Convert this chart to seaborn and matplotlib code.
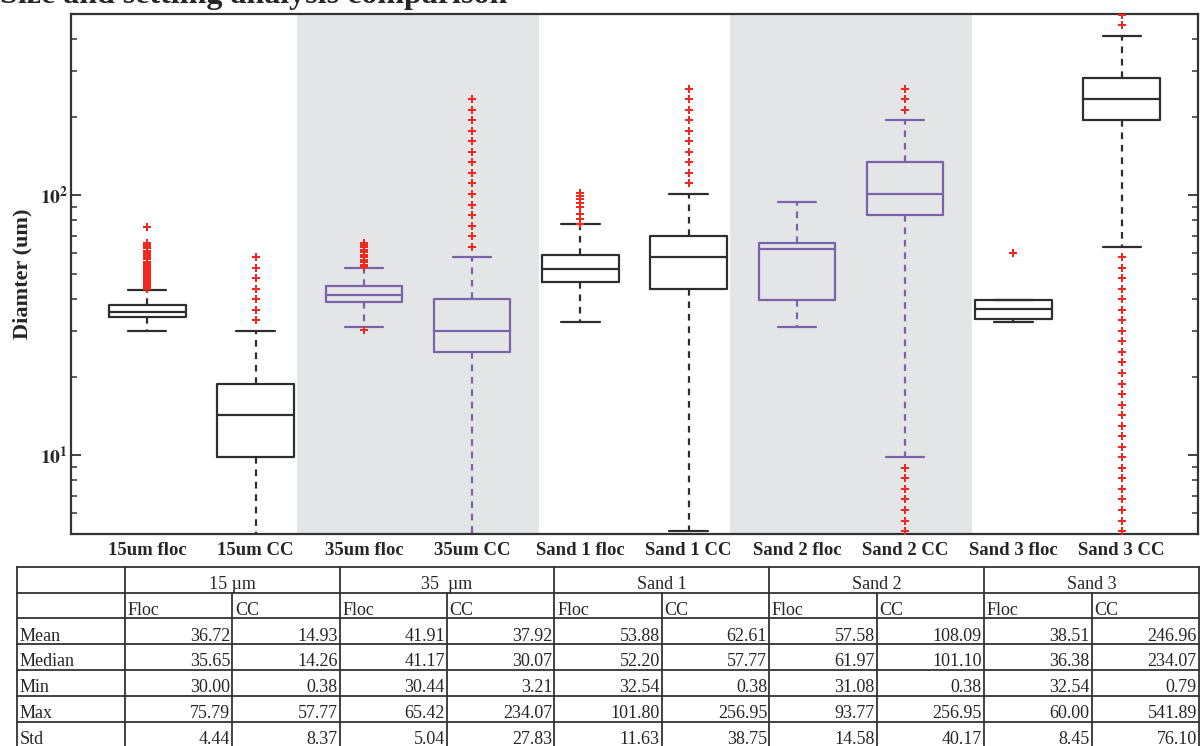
import numpy as np
import pandas as pd
import matplotlib
matplotlib.use("Agg")
import matplotlib.pyplot as plt
from matplotlib.ticker import LogLocator, NullFormatter
import seaborn as sns

# Datos
categories = ["15um floc", "15um CC", "35um floc", "35um CC", "Sand 1 floc",
              "Sand 1 CC", "Sand 2 floc", "Sand 2 CC", "Sand 3 floc", "Sand 3 CC"]

whislo = [30.00, 0.38, 31.0, 3.21, 32.54, 5.11, 31.08, 9.83, 32.54, 63.44]
q1 = [34.0, 9.83, 38.9, 24.96, 46.4, 43.68, 39.6, 83.92, 33.4, 194.24]
med = [35.65, 14.26, 41.17, 30.07, 52.20, 57.77, 61.97, 101.10, 36.38, 234.07]
q3 = [37.8, 18.87, 44.7, 39.79, 58.9, 69.64, 65.3, 133.76, 39.6, 282.07]
whishi = [43.2, 30.08, 52.6, 57.79, 77.5, 101.12, 93.77, 194.24, 39.6, 409.61]

# valores atipicos (outliers) por caja
fl_15_floc = [43.6, 44.3, 45.0, 45.8, 46.6, 47.4, 48.2, 49.0, 49.9, 50.8, 51.7, 52.6,
              53.6, 54.6, 55.6, 56.7, 57.8, 58.9, 60.0, 61.2, 62.4, 63.6, 64.9, 65.6, 75.79]
fl_15_cc = [33.02, 36.25, 39.79, 43.68, 47.95, 52.64, 57.77]
fl_35_floc = [30.44, 53.0, 54.1, 55.3, 56.5, 57.7, 59.0, 60.3, 61.6, 63.0, 64.2, 65.42]
fl_35_cc = [63.44, 69.64, 76.45, 83.92, 92.12, 101.12, 111.00, 121.85, 133.76,
            146.84, 161.19, 176.95, 194.24, 213.23, 234.07]
fl_s1_floc = [77.8, 81.0, 84.5, 90.5, 93.5, 96.5, 99.3, 101.80]
fl_s1_cc = [111.00, 121.85, 133.76, 146.84, 161.19, 176.95, 194.24, 213.23, 234.07, 256.95]
fl_s2_floc = []
fl_s2_cc = [5.11, 5.61, 6.16, 6.76, 7.42, 8.15, 8.95, 213.23, 234.07, 256.95]
fl_s3_floc = [60.00]
fl_s3_cc = [5.11, 5.61, 6.16, 6.76, 7.42, 8.15, 8.95, 9.83, 10.79, 11.84, 13.00, 14.27,
            15.66, 17.19, 18.87, 20.72, 22.74, 24.96, 27.40, 30.08, 33.02, 36.25, 39.79,
            43.68, 47.95, 52.64, 57.79, 449.65, 493.60, 541.89]
fliers = [fl_15_floc, fl_15_cc, fl_35_floc, fl_35_cc, fl_s1_floc,
          fl_s1_cc, fl_s2_floc, fl_s2_cc, fl_s3_floc, fl_s3_cc]

# Tabla
groups = ["15 µm", "35  µm", "Sand 1", "Sand 2", "Sand 3"]
sub_cols = ["Floc", "CC"]
row_names = ["Mean", "Median", "Min", "Max", "Std"]
mean_vals = [36.72, 14.93, 41.91, 37.92, 53.88, 62.61, 57.58, 108.09, 38.51, 246.96]
median_vals = [35.65, 14.26, 41.17, 30.07, 52.20, 57.77, 61.97, 101.10, 36.38, 234.07]
min_vals = [30.00, 0.38, 30.44, 3.21, 32.54, 0.38, 31.08, 0.38, 32.54, 0.79]
max_vals = [75.79, 57.77, 65.42, 234.07, 101.80, 256.95, 93.77, 256.95, 60.00, 541.89]
std_vals = [4.44, 8.37, 5.04, 27.83, 11.63, 38.75, 14.58, 40.17, 8.45, 76.10]

# Estilo
sns.set_style("ticks")
plt.rcParams['font.family'] = ['Liberation Serif', 'DejaVu Serif']
plt.rcParams['mathtext.fontset'] = 'stix'

BLACK = '#2e2e2e'
PURPLE = '#7a63a9'
RED = '#f0281e'
box_colors = [BLACK, BLACK, PURPLE, PURPLE, BLACK, BLACK, PURPLE, PURPLE, BLACK, BLACK]

fig = plt.figure(figsize=(12.02, 7.46), dpi=100)
ax = fig.add_axes([71 / 1202, 1 - 533.5 / 746, (1198 - 71) / 1202, 520 / 746])
ax.set_yscale('log')

# Zonas sombreadas
for lo, hi in [(1.383, 3.617), (5.383, 7.617)]:
    ax.axvspan(lo, hi, color='#e4e5e7', lw=0, zorder=0)

# Cajas
for i, c in enumerate(categories):
    st = dict(whislo=whislo[i], q1=q1[i], med=med[i], q3=q3[i], whishi=whishi[i], label=c)
    col = box_colors[i]
    ax.bxp([st], positions=[i], widths=0.708, capwidths=[0.354], showfliers=False,
           manage_ticks=False,
           boxprops=dict(color=col, lw=1.6),
           whiskerprops=dict(color=col, lw=1.6, ls=(0, (3, 2.6))),
           capprops=dict(color=col, lw=1.6),
           medianprops=dict(color=col, lw=1.6))

# Outliers con seaborn
fl_df = pd.DataFrame([(c, v) for c, vals in zip(categories, fliers) for v in vals],
                     columns=['group', 'value'])
sns.stripplot(data=fl_df, x='group', y='value', order=categories, jitter=False,
              marker='P', color=RED, size=5.5, linewidth=0, ax=ax, zorder=5)

ax.set_xlim(-0.705, 9.705)
ax.set_ylim(5, 500)
ax.set_xticks(range(len(categories)))
ax.set_xticklabels(categories, fontsize=13.5, fontweight='bold')
ax.set_xlabel('')
ax.set_ylabel('Diamter (um)', fontsize=16, fontweight='bold')
ax.yaxis.set_label_coords(-0.034, 0.5)

ax.set_yticks([10, 100])
ax.set_yticklabels([r'$\mathbf{10^{1}}$', r'$\mathbf{10^{2}}$'], fontsize=14)
ax.yaxis.set_minor_locator(LogLocator(base=10, subs=range(2, 10)))
ax.yaxis.set_minor_formatter(NullFormatter())
ax.tick_params(axis='y', which='major', direction='in', length=7.5, width=1.3,
               left=True, right=True, pad=2, color='#333333')
ax.tick_params(axis='y', which='minor', direction='in', length=4, width=1.1,
               left=True, right=True, color='#333333')
ax.tick_params(axis='x', length=0, pad=6)
for s in ax.spines.values():
    s.set_color('#333333')
    s.set_linewidth(1.6)

# Titulo (cortado arriba como en la original)
fig.text(0.0, 1 - 3 / 746, 'Size and settling analysis comparison', ha='left', va='baseline',
         fontsize=23, fontweight='bold')

# Tabla de estadisticas
tab = fig.add_axes([17.3 / 1202, 1 - 747.5 / 746, (1199 - 17.3) / 1202, (747.5 - 566.7) / 746])
tab.set_xlim(0, 11)
tab.set_ylim(7, 0)
tab.axis('off')
lc = '#333333'
lw = 1.3
for r in range(8):
    tab.plot([0, 11], [r, r], color=lc, lw=lw, clip_on=False, solid_capstyle='projecting')
for c in range(12):
    y0 = 0 if c in (0, 1, 3, 5, 7, 9, 11) else 1
    tab.plot([c, c], [y0, 7], color=lc, lw=lw, clip_on=False, solid_capstyle='projecting')

fs = 13
base = 0.86
for g, name in enumerate(groups):
    tab.text(2 + 2 * g, 0 + base, name, ha='center', va='baseline', fontsize=fs)
    for k, sc in enumerate(sub_cols):
        tab.text(1 + 2 * g + k + 0.025, 1 + base, sc, ha='left', va='baseline', fontsize=fs)

rows = [mean_vals, median_vals, min_vals, max_vals, std_vals]
for r, (rn, vals) in enumerate(zip(row_names, rows)):
    tab.text(0.025, 2 + r + base, rn, ha='left', va='baseline', fontsize=fs)
    for j, v in enumerate(vals):
        tab.text(j + 2 - 0.02, 2 + r + base, f'{v:.2f}', ha='right', va='baseline', fontsize=fs)

fig.savefig('out.png', dpi=100)
